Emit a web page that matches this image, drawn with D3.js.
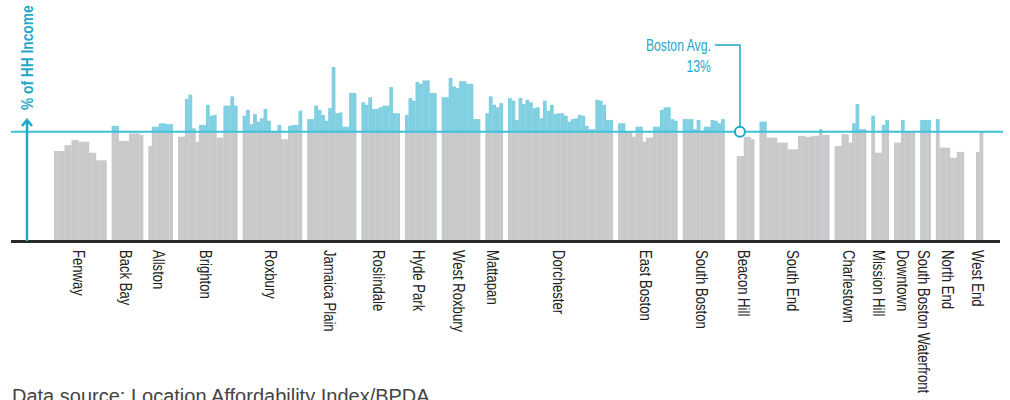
<!DOCTYPE html>
<html>
<head>
<meta charset="utf-8">
<script src="https://cdn.jsdelivr.net/npm/d3@7/dist/d3.min.js"></script>
<style>
  body { margin: 0; background: #fff; }
  svg { display: block; }
  text { font-family: "Liberation Sans", Arial, sans-serif; }
</style>
</head>
<body>
<svg width="1010" height="400"></svg>
<script>
// % of household income spent on transportation, one bar per tract, grouped by neighborhood
const neighborhoods = ['Fenway', 'Back Bay', 'Allston', 'Brighton', 'Roxbury', 'Jamaica Plain',
  'Roslindale', 'Hyde Park', 'West Roxbury', 'Mattapan', 'Dorchester', 'East Boston',
  'South Boston', 'Beacon Hill', 'South End', 'Charlestown', 'Mission Hill', 'Downtown',
  'South Boston Waterfront', 'North End', 'West End'];

const fenway = [10.7, 10.7, 10.7, 11.4, 11.4, 12.0, 12.0, 11.8, 11.8, 11.8, 10.5, 10.5, 9.6, 9.6, 9.6];
const backBay = [13.7, 13.7, 11.9, 11.9, 11.9, 12.8, 12.8, 12.8, 12.6];
const allston = [11.3, 13.6, 13.6, 14.0, 14.0, 13.9, 13.9];
const brighton = [12.4, 12.4, 16.9, 17.4, 13.4, 11.8, 13.8, 13.8, 16.2, 14.9, 15.0, 12.3, 12.3, 16.1, 16.1, 17.2, 16.1];
const roxbury = [14.9, 15.6, 13.9, 15.1, 14.2, 14.6, 15.7, 14.3, 13.0, 13.0, 13.8, 12.1, 12.1, 13.7, 13.8, 13.8, 15.5];
const jamaicaPlain = [14.5, 14.5, 16.1, 15.6, 15.0, 14.3, 15.8, 20.7, 15.2, 15.3, 13.6, 13.6, 17.6, 17.6];
const roslindale = [16.5, 16.2, 17.1, 15.7, 15.7, 15.9, 16.1, 16.1, 18.3, 15.2, 15.2];
const hydePark = [15.0, 17.0, 16.7, 18.9, 18.7, 19.1, 19.1, 17.6, 17.6];
const westRoxbury = [17.1, 17.1, 19.4, 18.4, 18.2, 19.0, 19.0, 18.7, 18.7, 14.5, 14.5];
const mattapan = [15.2, 17.2, 16.2, 15.9, 16.4];
const dorchester = [17.0, 16.7, 14.4, 17.0, 16.3, 16.8, 16.5, 15.8, 15.9, 14.6, 16.7, 15.5, 16.2, 15.1, 15.2,
  15.2, 14.9, 14.2, 14.5, 14.6, 15.0, 14.9, 13.7, 13.3, 13.3, 16.8, 16.7, 16.2, 14.4, 14.4];
const eastBoston = [14.0, 14.0, 13.0, 13.0, 12.4, 13.6, 13.6, 11.8, 12.3, 12.3, 13.6, 13.6, 15.6, 15.9, 15.9, 14.5, 14.3];
const southBoston = [14.5, 14.5, 14.5, 13.3, 14.4, 13.1, 13.6, 13.6, 14.4, 14.3, 14.0, 14.5];
const beaconHill = [10.1, 10.1, 12.4, 12.4, 12.1];
const southEnd = [14.2, 14.2, 12.3, 12.3, 12.3, 11.7, 11.7, 11.7, 10.9, 10.9, 10.9, 12.5, 12.5, 12.4, 12.4, 12.5, 12.5, 13.3, 12.6, 12.6];
const charlestown = [11.3, 11.3, 12.7, 12.7, 11.7, 14.0, 16.3, 13.3, 13.3];
const missionHill = [14.9, 10.5, 10.5, 13.8, 14.4];
const downtown = [11.7, 11.7, 14.4, 13.0, 13.0, 13.0];
const sbWaterfront = [14.4, 14.4, 14.4];
const northEnd = [14.5, 11.1, 11.1, 11.1, 9.9, 9.9, 10.6, 10.6];
const westEnd = [10.6, 13.0];

const bostonAvg = 13;

const seriesList = [fenway, backBay, allston, brighton, roxbury, jamaicaPlain, roslindale, hydePark,
  westRoxbury, mattapan, dorchester, eastBoston, southBoston, beaconHill, southEnd, charlestown,
  missionHill, downtown, sbWaterfront, northEnd, westEnd];

const teal = '#1fa8c9';
const tealLight = '#80d0e1';
const gray = '#c8c9cb';
const squeeze = 0.82; // fake a condensed face

const svg = d3.select('svg');
const gap = 1.5;       // empty tract-widths between neighborhoods
const wideGap = 3.5;   // a bit more room around the avg marker and West End
const wideBefore = ['Beacon Hill', 'West End'];

// lay out groups one after another
let cursor = 0;
const groups = neighborhoods.map((name, i) => {
  if (i > 0) cursor += wideBefore.includes(name) ? wideGap : gap;
  const g = { name, values: seriesList[i], start: cursor };
  cursor += g.values.length;
  g.end = cursor;
  return g;
});
const totalUnits = cursor;

const xScale = d3.scaleLinear().domain([0, totalUnits]).range([54, 983]);
const yScale = d3.scaleLinear().domain([0, 20]).range([241, 241 - 20 * 8.408]);

const bars = [];
groups.forEach(g => g.values.forEach((v, j) => bars.push({ v, i: g.start + j })));

const barW = xScale(1) - xScale(0) + 0.3;

// gray part
svg.append('g').selectAll('rect')
  .data(bars)
  .join('rect')
    .attr('x', d => xScale(d.i))
    .attr('width', barW)
    .attr('y', d => yScale(Math.min(d.v, bostonAvg)))
    .attr('height', d => yScale(0) - yScale(Math.min(d.v, bostonAvg)))
    .attr('fill', gray);

// teal part above the city average
svg.append('g').selectAll('rect')
  .data(bars.filter(d => d.v > bostonAvg))
  .join('rect')
    .attr('x', d => xScale(d.i))
    .attr('width', barW)
    .attr('y', d => yScale(d.v))
    .attr('height', d => yScale(bostonAvg) - yScale(d.v))
    .attr('fill', tealLight);

// average line
svg.append('line')
  .attr('x1', 11).attr('x2', 1003)
  .attr('y1', yScale(bostonAvg)).attr('y2', yScale(bostonAvg))
  .attr('stroke', '#3ec0da')
  .attr('stroke-width', 2);

// baseline
svg.append('line')
  .attr('x1', 11).attr('x2', 1000)
  .attr('y1', yScale(0) + 0.5).attr('y2', yScale(0) + 0.5)
  .attr('stroke', '#2a2a2a')
  .attr('stroke-width', 3);

// y axis arrow
svg.append('line')
  .attr('x1', 27).attr('x2', 27)
  .attr('y1', yScale(0)).attr('y2', 120)
  .attr('stroke', teal).attr('stroke-width', 2.5);
svg.append('path')
  .attr('d', 'M22,126 L27,120 L32,126')
  .attr('fill', 'none')
  .attr('stroke', teal).attr('stroke-width', 2.5);

svg.append('text')
  .attr('transform', 'translate(27,110) rotate(-90) scale(0.86,1)')
  .attr('dominant-baseline', 'central')
  .attr('fill', teal)
  .attr('font-size', 16)
  .attr('font-weight', 'bold')
  .text('% of HH Income');

// neighborhood labels
svg.append('g').selectAll('text')
  .data(groups)
  .join('text')
    .attr('transform', d => `translate(${(xScale(d.start) + xScale(d.end)) / 2 - 2},250) rotate(90) scale(${squeeze},1)`)
    .attr('dominant-baseline', 'central')
    .attr('font-size', 16)
    .attr('fill', '#222')
    .text(d => d.name);

// Boston average callout, pinned just inside the start of Beacon Hill
const bh = groups[neighborhoods.indexOf('Beacon Hill')];
const cx = xScale(bh.start + 0.9);
const cy = yScale(bostonAvg);

svg.append('path')
  .attr('d', `M${cx - 25},45 H${cx} V${cy - 5}`)
  .attr('fill', 'none')
  .attr('stroke', teal).attr('stroke-width', 1.5);
svg.append('circle')
  .attr('cx', cx).attr('cy', cy).attr('r', 5)
  .attr('fill', '#fff')
  .attr('stroke', teal).attr('stroke-width', 2);

const callout = svg.append('text')
  .attr('transform', `translate(${cx - 29},0) scale(0.72,1)`)
  .attr('text-anchor', 'end')
  .attr('fill', teal)
  .attr('font-size', 17);
callout.append('tspan').attr('x', 0).attr('y', 51).text('Boston Avg.');
callout.append('tspan').attr('x', 0).attr('y', 72).text(bostonAvg + '%');

svg.append('text')
  .attr('x', 12).attr('y', 403)
  .attr('font-size', 20)
  .attr('fill', '#444')
  .text('Data source: Location Affordability Index/BPDA');
</script>
</body>
</html>
